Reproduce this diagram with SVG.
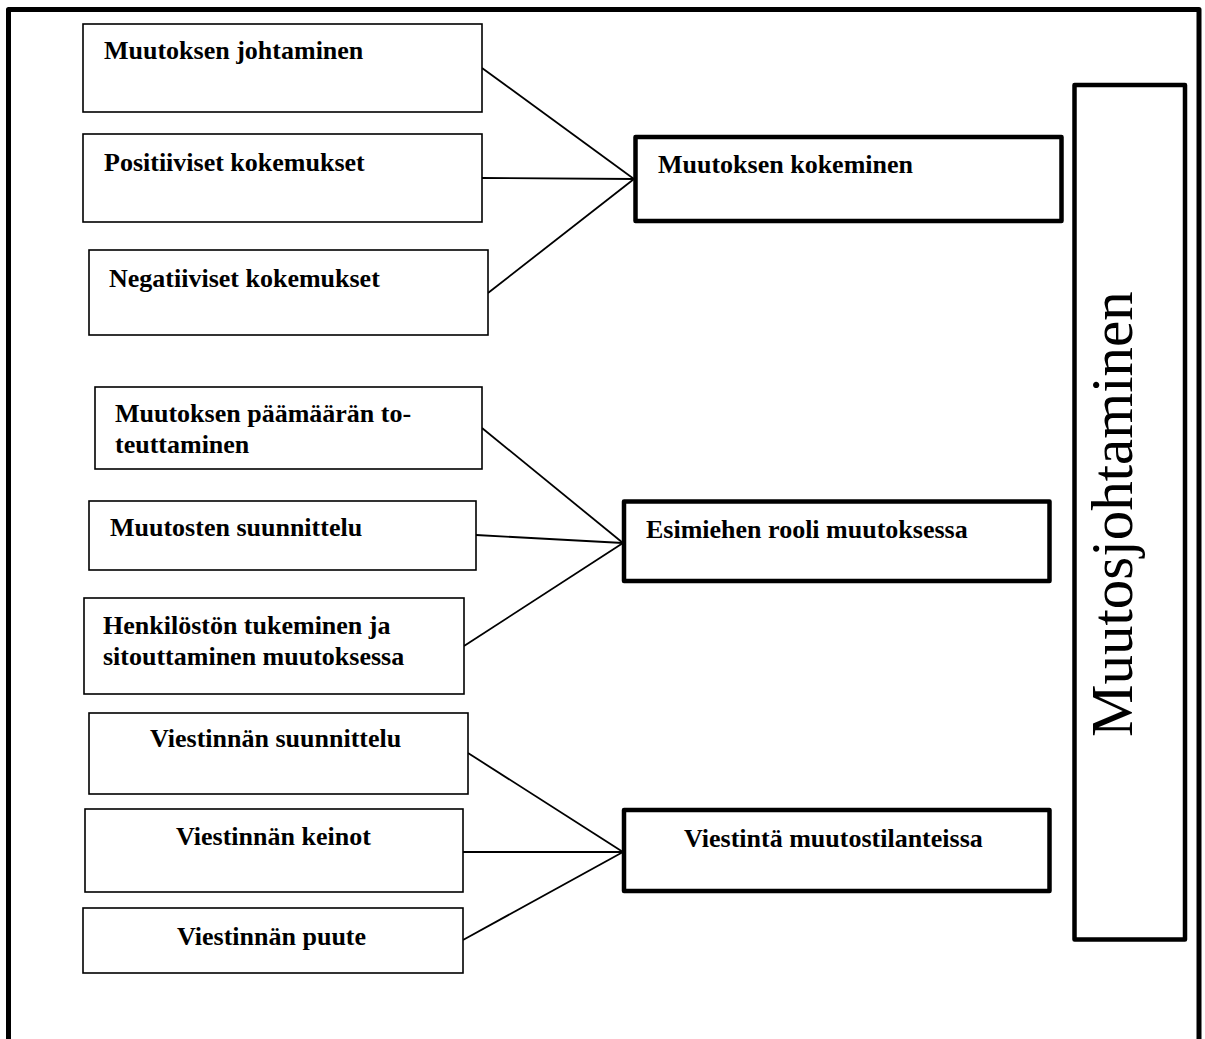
<svg xmlns="http://www.w3.org/2000/svg" width="1205" height="1039" viewBox="0 0 1205 1039">
  <style>
    .frame { fill: none; stroke: #000; stroke-width: 5; stroke-linejoin: round; }
    .item { fill: #fff; stroke: #000; stroke-width: 1.6; }
    .theme { fill: #fff; stroke: #000; stroke-width: 4.5; stroke-linejoin: round; }
    .lbl { font-family: "Liberation Serif", "Times New Roman", serif; font-weight: bold; font-size: 26px; fill: #000; }
    .title { font-family: "Liberation Serif", "Times New Roman", serif; font-size: 59px; fill: #000; }
    .conn line { stroke: #000; stroke-width: 1.8; }
  </style>
  <rect x="0" y="0" width="1205" height="1039" fill="#fff"/>

  <!-- outer frame, open at the bottom -->
  <path class="frame" d="M8.5,1045 V9.5 H1199 V1045"/>

  <!-- connectors -->
  <g id="connectors" class="conn">
    <line x1="482" y1="68" x2="634" y2="179"/>
    <line x1="482" y1="178" x2="634" y2="179"/>
    <line x1="488" y1="293" x2="634" y2="179"/>

    <line x1="482" y1="428" x2="623" y2="543"/>
    <line x1="476" y1="535" x2="623" y2="543"/>
    <line x1="464" y1="646" x2="623" y2="543"/>

    <line x1="468" y1="753" x2="623" y2="852"/>
    <line x1="463" y1="852" x2="623" y2="852"/>
    <line x1="463" y1="940" x2="623" y2="852"/>
  </g>

  <!-- experience of change -->
  <g id="muutoksen-johtaminen">
    <rect class="item" x="83" y="24" width="399" height="88"/>
    <text class="lbl" x="104" y="59">Muutoksen johtaminen</text>
  </g>
  <g id="positiiviset-kokemukset">
    <rect class="item" x="83" y="134" width="399" height="88"/>
    <text class="lbl" x="104" y="171">Positiiviset kokemukset</text>
  </g>
  <g id="negatiiviset-kokemukset">
    <rect class="item" x="89" y="250" width="399" height="85"/>
    <text class="lbl" x="109" y="287">Negatiiviset kokemukset</text>
  </g>
  <g id="muutoksen-kokeminen">
    <rect class="theme" x="635.5" y="137" width="426" height="84"/>
    <text class="lbl" x="658" y="173">Muutoksen kokeminen</text>
  </g>

  <!-- the manager's role -->
  <g id="paamaaran-toteuttaminen">
    <rect class="item" x="95" y="387" width="387" height="82"/>
    <text class="lbl" x="115" y="422">Muutoksen päämäärän to-</text>
    <text class="lbl" x="115" y="453">teuttaminen</text>
  </g>
  <g id="muutosten-suunnittelu">
    <rect class="item" x="89" y="501" width="387" height="69"/>
    <text class="lbl" x="110" y="536">Muutosten suunnittelu</text>
  </g>
  <g id="henkiloston-tukeminen">
    <rect class="item" x="84" y="598" width="380" height="96"/>
    <text class="lbl" x="103" y="634">Henkilöstön tukeminen ja</text>
    <text class="lbl" x="103" y="665">sitouttaminen muutoksessa</text>
  </g>
  <g id="esimiehen-rooli">
    <rect class="theme" x="624" y="501.5" width="425.5" height="79.5"/>
    <text class="lbl" x="646" y="538">Esimiehen rooli muutoksessa</text>
  </g>

  <!-- communication -->
  <g id="viestinnan-suunnittelu">
    <rect class="item" x="89" y="713" width="379" height="81"/>
    <text class="lbl" x="150" y="747">Viestinnän suunnittelu</text>
  </g>
  <g id="viestinnan-keinot">
    <rect class="item" x="85" y="809" width="378" height="83"/>
    <text class="lbl" x="176" y="845">Viestinnän keinot</text>
  </g>
  <g id="viestinnan-puute">
    <rect class="item" x="83" y="908" width="380" height="65"/>
    <text class="lbl" x="177" y="945">Viestinnän puute</text>
  </g>
  <g id="viestinta-muutostilanteissa">
    <rect class="theme" x="624" y="810" width="425.5" height="81"/>
    <text class="lbl" x="684" y="847">Viestintä muutostilanteissa</text>
  </g>

  <!-- overall theme -->
  <g id="muutosjohtaminen">
    <rect class="theme" x="1074.5" y="85" width="110.5" height="854.5"/>
    <text class="title" transform="translate(1132,737) rotate(-90)">Muutosjohtaminen</text>
  </g>
</svg>
